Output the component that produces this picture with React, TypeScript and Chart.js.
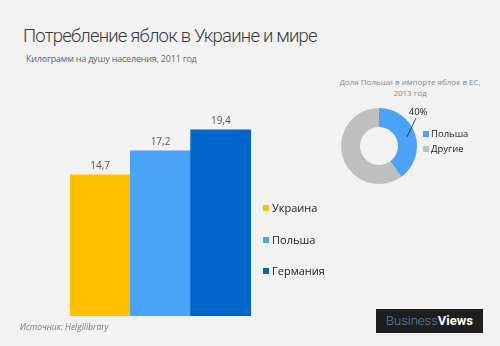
import React, { useEffect, useRef } from "react";
import { Chart, registerables } from "chart.js";
Chart.register(...registerables);

const countries = ["Украина", "Польша", "Германия"];
const consumption = [14.7, 17.2, 19.4];
const barColors = ["#FFC000", "#4BA3F7", "#0066CC"];

const shareLabels = ["Польша", "Другие"];
const shareValues = [40, 60];
const shareColors = ["#4BA3F7", "#BFBFBF"];

const FONT = "'Open Sans', 'Noto Sans', 'DejaVu Sans', sans-serif";
const TFONT = "Roboto, 'Open Sans', sans-serif";

const barLabelPlugin = {
  id: "barLabels",
  afterDatasetsDraw(chart: any) {
    const ctx = chart.ctx;
    const meta = chart.getDatasetMeta(0);
    ctx.save();
    ctx.font = `10px ${FONT}`;
    ctx.fillStyle = "#555";
    ctx.textAlign = "center";
    ctx.textBaseline = "bottom";
    meta.data.forEach((el: any, i: number) => {
      const v = chart.data.datasets[0].data[i];
      ctx.fillText(String(v).replace(".", ","), el.x, el.y - 4);
    });
    ctx.restore();
  },
};

const donutLabelPlugin = {
  id: "donutLabel",
  afterDatasetsDraw(chart: any) {
    const ctx = chart.ctx;
    const el: any = chart.getDatasetMeta(0).data[0];
    const mid = (el.startAngle + el.endAngle) / 2;
    const r = (el.innerRadius + el.outerRadius) / 2 + 1;
    const x0 = el.x + Math.cos(mid) * r;
    const y0 = el.y + Math.sin(mid) * r;
    const x1 = x0 + 9;
    const y1 = y0 - 19;
    ctx.save();
    ctx.strokeStyle = "#222";
    ctx.lineWidth = 0.8;
    ctx.beginPath();
    ctx.moveTo(x0, y0);
    ctx.lineTo(x1, y1);
    ctx.stroke();
    ctx.font = `9.5px ${FONT}`;
    ctx.fillStyle = "#222";
    ctx.textAlign = "center";
    ctx.textBaseline = "bottom";
    ctx.fillText(chart.data.datasets[0].data[0] + "%", x1 + 2, y1 - 1);
    ctx.restore();
  },
};

export default function App() {
  const barRef = useRef<HTMLCanvasElement>(null);
  const donutRef = useRef<HTMLCanvasElement>(null);

  useEffect(() => {
    document.body.style.margin = "0";
    const bar = new Chart(barRef.current!, {
      type: "bar",
      data: {
        labels: countries,
        datasets: [
          {
            data: consumption,
            backgroundColor: barColors,
            borderWidth: 0,
            categoryPercentage: 1,
            barPercentage: 1,
          },
        ],
      },
      options: {
        animation: false,
        responsive: false,
        maintainAspectRatio: false,
        layout: { padding: { left: 70, right: 69, top: 100, bottom: 30 } },
        scales: {
          x: { display: false },
          y: { display: false, min: 0, max: 22.5 },
        },
        plugins: { legend: { display: false }, tooltip: { enabled: false } },
      },
      plugins: [barLabelPlugin],
    });
    const donut = new Chart(donutRef.current!, {
      type: "doughnut",
      data: {
        labels: shareLabels,
        datasets: [{ data: shareValues, backgroundColor: shareColors, borderWidth: 0 }],
      },
      options: {
        animation: false,
        responsive: false,
        maintainAspectRatio: false,
        cutout: "50%",
        layout: { padding: { left: 11, right: 23, top: 8, bottom: 16 } },
        plugins: { legend: { display: false }, tooltip: { enabled: false } },
      },
      plugins: [donutLabelPlugin],
    });
    return () => {
      bar.destroy();
      donut.destroy();
    };
  }, []);

  const abs = (l: number, t: number, extra: any = {}) => ({
    position: "absolute" as const,
    left: l,
    top: t,
    whiteSpace: "nowrap" as const,
    ...extra,
  });

  return (
    <div
      style={{
        position: "absolute",
        left: 0,
        top: 0,
        width: 500,
        height: 346,
        background: "#F2F2F2",
        overflow: "hidden",
        fontFamily: FONT,
      }}
    >
      <div
        style={abs(23, 24, {
          fontFamily: TFONT,
          fontSize: 18.5,
          fontWeight: 300,
          color: "#3a3a3a",
          lineHeight: "24px",
          letterSpacing: "-0.8px",
        })}
      >
        Потребление яблок в Украине и мире
      </div>
      <div style={abs(26, 53, { fontSize: 9, color: "#666", lineHeight: "12px", letterSpacing: "-0.2px" })}>
        Килограмм на душу населения, 2011 год
      </div>
      <canvas ref={barRef} width={320} height={346} style={abs(0, 0, { width: 320, height: 346 })} />
      {countries.map((c, i) => (
        <div key={c} style={abs(263, 201 + i * 31.5, { fontSize: 11, color: "#222", lineHeight: "14px", display: "flex", alignItems: "center" })}>
          <span style={{ display: "inline-block", width: 6, height: 6, background: barColors[i], marginRight: 3 }} />
          {c}
        </div>
      ))}
      <div style={abs(330, 76, { width: 160, textAlign: "center", fontSize: 8, color: "#888", lineHeight: "11px", whiteSpace: "normal" })}>
        Доля Польши в импорте яблок в ЕС,
        <br />
        2013 год
      </div>
      <canvas ref={donutRef} width={110} height={100} style={abs(330, 100, { width: 110, height: 100 })} />
      {shareLabels.map((c, i) => (
        <div key={c} style={abs(423, 128 + i * 15, { fontSize: 9.5, color: "#222", lineHeight: "12px", display: "flex", alignItems: "center" })}>
          <span style={{ display: "inline-block", width: 6, height: 6, background: shareColors[i], marginRight: 2 }} />
          {c}
        </div>
      ))}
      <div style={abs(20, 321, { fontSize: 8.5, fontStyle: "italic", color: "#777", lineHeight: "12px" })}>
        Источник: Helgilibrary
      </div>
      <div
        style={abs(376, 309, {
          width: 107,
          height: 24,
          background: "#1E1E1E",
          display: "flex",
          alignItems: "center",
          justifyContent: "center",
          fontFamily: TFONT,
          fontSize: 13,
          lineHeight: "24px",
        })}
      >
        <span style={{ color: "#5F82A6", fontWeight: 300 }}>Business</span>
        <span style={{ color: "#FFFFFF", fontWeight: 700 }}>Views</span>
      </div>
    </div>
  );
}
